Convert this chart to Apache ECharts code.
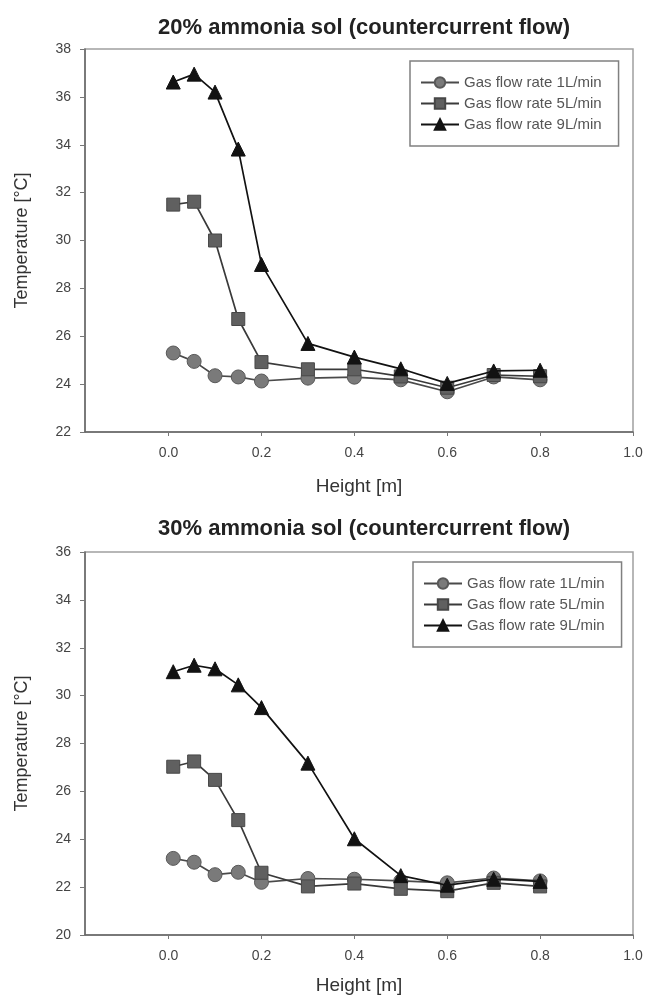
<!DOCTYPE html>
<html>
<head>
<meta charset="utf-8">
<title>Ammonia solution temperature profiles</title>
<script src="https://cdn.jsdelivr.net/npm/echarts@6/dist/echarts.min.js"></script>
<style>
  html, body { margin: 0; padding: 0; background: #ffffff; }
  #chart { width: 648px; height: 996px; }
</style>
</head>
<body>
<div id="chart"></div>
<script>
// Column height positions [m]
const heightM = [0.01, 0.055, 0.1, 0.15, 0.2, 0.3, 0.4, 0.5, 0.6, 0.7, 0.8];

// 20% ammonia solution, temperature [°C]
const sol20_1L = [25.3, 24.95, 24.35, 24.3, 24.13, 24.25, 24.29, 24.18, 23.68, 24.3, 24.18];
const sol20_5L = [31.5, 31.62, 30.0, 26.72, 24.92, 24.62, 24.62, 24.32, 23.85, 24.38, 24.33];
const sol20_9L = [36.62, 36.95, 36.2, 33.82, 29.0, 25.7, 25.13, 24.64, 24.03, 24.55, 24.58];

// 30% ammonia solution, temperature [°C]
const sol30_1L = [23.2, 23.04, 22.52, 22.62, 22.2, 22.36, 22.33, 22.26, 22.18, 22.38, 22.26];
const sol30_5L = [27.03, 27.25, 26.48, 24.8, 22.6, 22.03, 22.15, 21.93, 21.83, 22.18, 22.03];
const sol30_9L = [31.0, 31.27, 31.12, 30.45, 29.5, 27.18, 24.02, 22.48, 22.08, 22.33, 22.24];

const seriesNames = ['Gas flow rate 1L/min', 'Gas flow rate 5L/min', 'Gas flow rate 9L/min'];
const chartTitles = ['20% ammonia sol (countercurrent flow)', '30% ammonia sol (countercurrent flow)'];
const xTickValues = [0.0, 0.2, 0.4, 0.6, 0.8, 1.0];
const yRanges = [[22, 38], [20, 36]];

const FONT = '"Liberation Sans", Arial, sans-serif';

const pair = (ys) => heightM.map((x, i) => [x, ys[i]]);

const styles = [
  { symbol: 'circle', symbolSize: 14, color: '#7a7a7a', border: '#595959', line: '#4a4a4a' },
  { symbol: 'rect', symbolSize: 13, color: '#606060', border: '#474747', line: '#3a3a3a' },
  { symbol: 'triangle', symbolSize: 14, color: '#121212', border: '#121212', line: '#121212' }
];

const grids = [
  { left: 85, right: 15, top: 49, height: 383, show: true, borderColor: '#a0a0a0', borderWidth: 1.5 },
  { left: 85, right: 15, top: 552, height: 384, show: true, borderColor: '#a0a0a0', borderWidth: 1.5 }
];

const xAxes = [0, 1].map((g) => ({
  type: 'value', gridIndex: g, min: -0.18, max: 1.0,
  name: 'Height [m]', nameLocation: 'middle', nameGap: g === 0 ? 45 : 41,
  nameTextStyle: { fontFamily: FONT, fontSize: 19, color: '#333' },
  axisLine: { show: true, onZero: false, lineStyle: { color: '#666', width: 1.5 } },
  axisTick: { show: true, length: 4, customValues: xTickValues, lineStyle: { color: '#777' } },
  axisLabel: { customValues: xTickValues, margin: 14, fontFamily: FONT, fontSize: 14, color: '#444',
               formatter: (v) => v.toFixed(1) },
  splitLine: { show: false }
}));

const yAxes = [0, 1].map((g) => ({
  type: 'value', gridIndex: g, min: yRanges[g][0], max: yRanges[g][1], interval: 2,
  name: 'Temperature [°C]', nameLocation: 'middle', nameGap: 54, nameRotate: 90,
  nameTextStyle: { fontFamily: FONT, fontSize: 18, color: '#333' },
  axisLine: { show: true, onZero: false, lineStyle: { color: '#666', width: 1.5 } },
  axisTick: { show: true, length: 5, lineStyle: { color: '#777' } },
  axisLabel: { margin: 14, fontFamily: FONT, fontSize: 14, color: '#444' },
  splitLine: { show: false }
}));

const dataSets = [[sol20_1L, sol20_5L, sol20_9L], [sol30_1L, sol30_5L, sol30_9L]];
const series = [];
dataSets.forEach((set, g) => {
  set.forEach((ys, k) => {
    const s = styles[k];
    series.push({
      name: seriesNames[k], type: 'line', xAxisIndex: g, yAxisIndex: g,
      data: pair(ys), symbol: s.symbol, symbolSize: s.symbolSize,
      lineStyle: { color: s.line, width: 1.7 },
      itemStyle: { color: s.color, borderColor: s.border, borderWidth: 1 },
      z: 2 + k, animation: false
    });
  });
});

const legends = [
  { left: 410, top: 61 },
  { left: 413, top: 562 }
].map((pos) => Object.assign({
  orient: 'vertical', data: seriesNames, itemWidth: 38, itemHeight: 13, itemGap: 6,
  padding: [14, 17, 14, 10], borderColor: '#808080', borderWidth: 1.5,
  textStyle: { fontFamily: FONT, fontSize: 15, color: '#555' },
  selectedMode: false
}, pos));

const titles = chartTitles.map((t, g) => ({
  text: t, left: 359, textAlign: 'center', top: g === 0 ? 12 : 513,
  textStyle: { fontFamily: FONT, fontSize: 22, fontWeight: 'bold', color: '#222' }
}));

const chart = echarts.init(document.getElementById('chart'), null, { renderer: 'canvas' });
chart.setOption({
  backgroundColor: '#ffffff',
  animation: false,
  title: titles,
  legend: legends,
  grid: grids,
  xAxis: xAxes,
  yAxis: yAxes,
  series: series
});
</script>
</body>
</html>
